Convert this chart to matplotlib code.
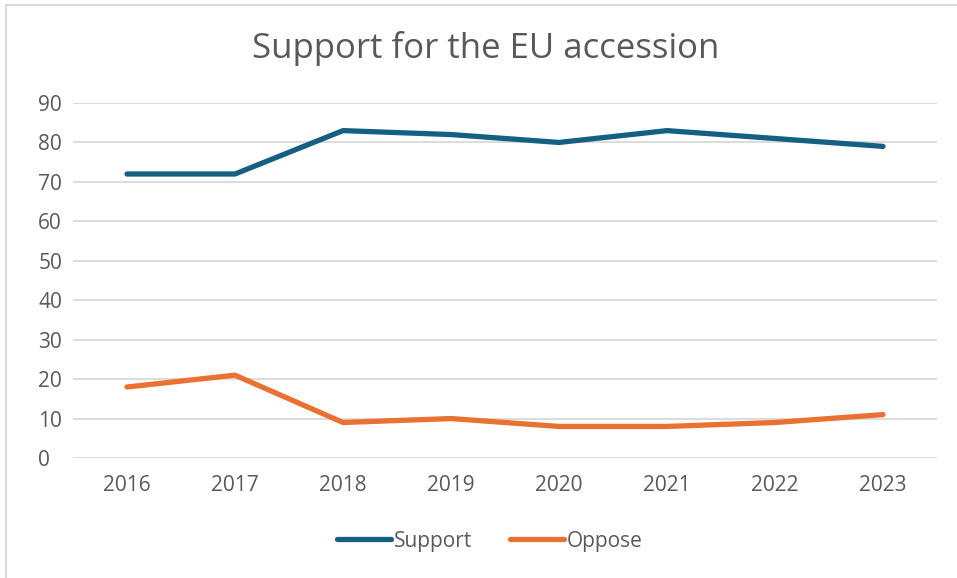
import matplotlib.pyplot as plt
from matplotlib.patches import Rectangle

years = ["2016", "2017", "2018", "2019", "2020", "2021", "2022", "2023"]
support = [72, 72, 83, 82, 80, 83, 81, 79]
oppose = [18, 21, 9, 10, 8, 8, 9, 11]

text_grey = "#595959"
plt.rcParams['font.family'] = ['Open Sans', 'DejaVu Sans']

fig = plt.figure(figsize=(9.57, 5.78), dpi=100)
ax = fig.add_axes([73 / 957, 1 - 458 / 578, 864 / 957, 355 / 578])

# chart frame (only left/top edges fall inside the image)
fig.patches.append(Rectangle((6 / 957, -0.1), 1.2, (578 - 5) / 578 + 0.1,
                             transform=fig.transFigure, fill=False,
                             edgecolor="#D9D9D9", linewidth=1.5))

x = range(len(years))
ax.plot(x, support, color="#156082", linewidth=3.8, solid_capstyle="round",
        solid_joinstyle="round", label="Support")
ax.plot(x, oppose, color="#E97132", linewidth=3.8, solid_capstyle="round",
        solid_joinstyle="round", label="Oppose")

ax.set_xlim(-0.5, len(years) - 0.5)
ax.set_ylim(0, 90)
ax.set_yticks(range(0, 91, 10))
ax.set_xticks(list(x))
ax.set_xticklabels(years)
ax.grid(axis="y", color="#D9D9D9", linewidth=1.3)
ax.set_axisbelow(True)
for s in ax.spines.values():
    s.set_visible(False)
ax.tick_params(length=0, labelsize=15, labelcolor=text_grey)
ax.tick_params(axis="y", pad=25)
ax.tick_params(axis="x", pad=12)
for lbl in ax.get_yticklabels():
    lbl.set_horizontalalignment("left")

fig.text(486 / 957, 1 - 48 / 578, "Support for the EU accession", ha="center",
         va="center", fontsize=25, color=text_grey)

fig.legend(loc="center", bbox_to_anchor=(490 / 957, 1 - 541 / 578), ncol=2,
           frameon=False, fontsize=15, labelcolor=text_grey, handlelength=2.6,
           handletextpad=0.15, columnspacing=1.8)

fig.savefig("out.png", dpi=100)
